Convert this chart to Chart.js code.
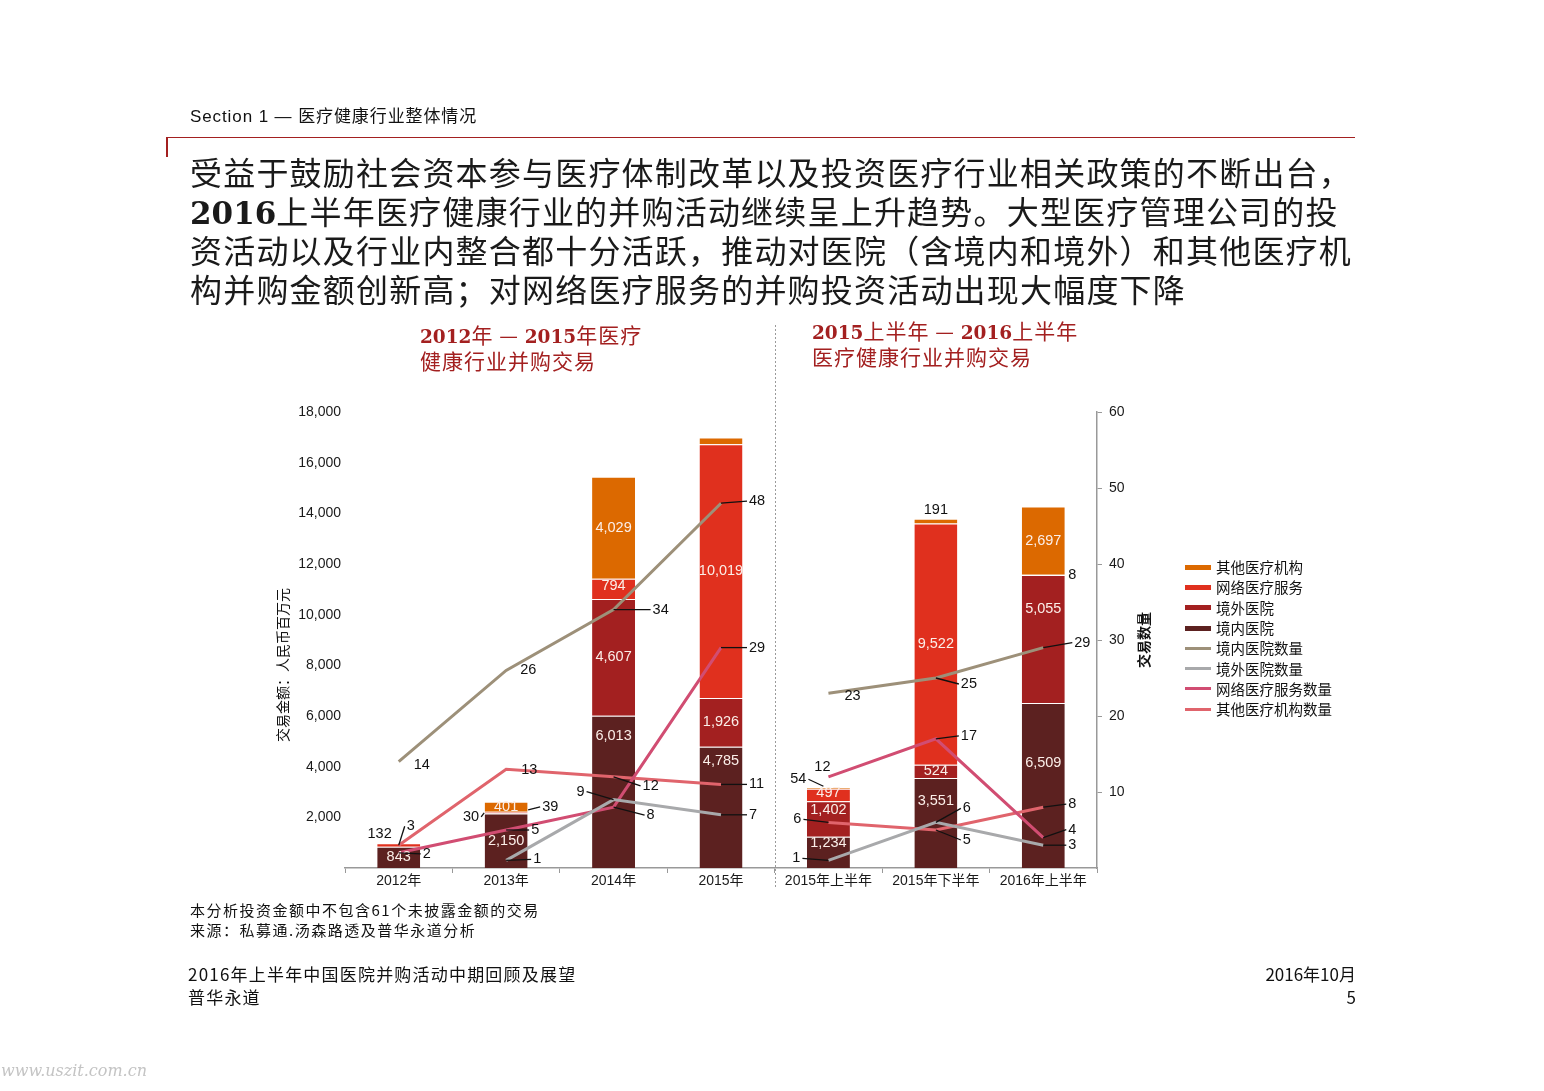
<!DOCTYPE html>
<html>
<head>
<meta charset="utf-8">
<script src="https://cdn.jsdelivr.net/npm/chart.js@4.4.0/dist/chart.umd.min.js"></script>
<style>
    body { margin: 0; background: #fff; width: 1544px; height: 1091px; position: relative; overflow: hidden;
           font-family: "Liberation Sans", "Noto Sans CJK SC", sans-serif; color: #111; }
    .abs { position: absolute; white-space: nowrap; }
    #chart { position: absolute; left: 0; top: 0; }
    .section { left: 190px; top: 106px; font-size: 17px; line-height: 21px; letter-spacing: 0.9px; }
    .rule { left: 167px; top: 137px; width: 1188px; height: 0; border-top: 1px solid #a32020; }
    .rule-tick { left: 166px; top: 137px; width: 2px; height: 20px; background: #a32020; }
    .title { left: 190px; top: 152px; font-family: "Noto Sans CJK SC", sans-serif; font-size: 32px; line-height: 39px;
             letter-spacing: 1.2px; color: #1a1a1a; }
    .title .num { font-family: "DejaVu Serif", serif; font-weight: bold; font-size: 31px; letter-spacing: 0; line-height: 0; }
    .sub { font-family: "Noto Sans CJK SC", sans-serif; font-size: 21px; line-height: 26px; color: #a32020; letter-spacing: 1px; }
    .sub .num { font-family: "DejaVu Serif", serif; font-weight: bold; font-size: 18.5px; letter-spacing: 0; line-height: 0; }
    .axis-title { font-family: "Noto Sans CJK SC", sans-serif; font-size: 14px; transform: translate(-50%, -50%) rotate(-90deg); }
    .legend { left: 1185px; top: 557px; font-family: "Noto Sans CJK SC", sans-serif; font-size: 14.5px; }
    .legend div { height: 20.3px; line-height: 20px; display: flex; align-items: center; }
    .legend span.sw { display: inline-block; width: 26px; margin-right: 5px; }
    .note { left: 190px; top: 900px; font-family: "Noto Sans CJK SC", sans-serif; font-size: 15px; line-height: 20px; letter-spacing: 1.5px; }
    .foot { font-family: "Noto Sans CJK SC", "Liberation Sans", sans-serif; font-size: 17px; line-height: 23px; letter-spacing: 1.2px; }
    .mark { left: 1px; top: 1061px; font-family: "DejaVu Serif", serif; font-style: italic; font-size: 16px; color: #c4c4c4; }
</style>
</head>
<body>
<canvas id="chart" width="1544" height="1091"></canvas>

<div class="abs section">Section 1 — 医疗健康行业整体情况</div>
<div class="abs rule"></div>
<div class="abs rule-tick"></div>
<div class="abs title">受益于鼓励社会资本参与医疗体制改革以及投资医疗行业相关政策的不断出台，<br><span class="num">2016</span>上半年医疗健康行业的并购活动继续呈上升趋势。大型医疗管理公司的投<br>资活动以及行业内整合都十分活跃，推动对医院（含境内和境外）和其他医疗机<br>构并购金额创新高；对网络医疗服务的并购投资活动出现大幅度下降</div>

<div class="abs sub" style="left:420px;top:321px"><span class="num">2012</span>年 — <span class="num">2015</span>年医疗<br>健康行业并购交易</div>
<div class="abs sub" style="left:812px;top:317px"><span class="num">2015</span>上半年 — <span class="num">2016</span>上半年<br>医疗健康行业并购交易</div>

<div class="abs axis-title" style="left:282px;top:665px">交易金额：人民币百万元</div>
<div class="abs axis-title" style="left:1143px;top:640px;font-weight:bold">交易数量</div>

<div class="abs legend" id="legend"></div>

<div class="abs note">本分析投资金额中不包含61个未披露金额的交易<br>来源：私募通.汤森路透及普华永道分析</div>
<div class="abs foot" style="left:188px;top:962px">2016年上半年中国医院并购活动中期回顾及展望<br>普华永道</div>
<div class="abs foot" style="right:188px;top:962px;text-align:right;letter-spacing:0">2016年10月<br>5</div>
<div class="abs mark">www.uszit.com.cn</div>

<script>
// categories (two periods, split between index 3 and 4)
var categories = ["2012年", "2013年", "2014年", "2015年", "2015年上半年", "2015年下半年", "2016年上半年"];

// deal amounts, RMB million (stacked bars)
var domesticAmt = [843, 2150, 6013, 4785, 1234, 3551, 6509];
var overseasAmt = [0, 30, 4607, 1926, 1402, 524, 5055];
var onlineAmt = [132, 39, 794, 10019, 497, 9522, 8];
var otherAmt = [0, 401, 4029, 260, 54, 191, 2697];

// deal counts (lines, right axis)
var domesticCnt = [14, 26, 34, 48, 23, 25, 29];
var overseasCnt = [null, 1, 9, 7, 1, 6, 3];
var onlineCnt = [2, 5, 8, 29, 12, 17, 4];
var otherCnt = [3, 13, 12, 11, 6, 5, 8];

var amtTicks = [2000, 4000, 6000, 8000, 10000, 12000, 14000, 16000, 18000];
var cntTicks = [10, 20, 30, 40, 50, 60];

// label placement: bars ['in', dy] or ['out', dx, dy, align, leaderStart]
var barLabelPos = [
    [["in", 0], ["in", 0], ["in", -56], ["in", -46], ["in", -9], ["in", -22], ["in", -23]],
    [null, ["out", -27, 4, "right", [-22, 0]], ["in", 0], ["in", 0], ["in", -9], ["in", 0], ["in", -30]],
    [["out", -7, -9, "right", null], ["out", 36, -5, "left", [22, -2]], ["in", -3], ["in", 0], ["in", -2], ["in", 0], ["out", 25, 0, "left", null]],
    [null, ["in", 0], ["in", 0], null, ["out", -22, -8, "right", [-5, -1]], ["out", 0, -9, "center", null], ["in", 0]]
];
// lines [dx, dy, align, leader]
var lineLabelPos = [
    [[15, 3, "left", 0], [14, 0, "left", 0], [39, 0, "left", 1], [28, -2, "left", 1], [16, 3, "left", 0], [25, 6, "left", 1], [31, -5, "left", 1]],
    [null, [27, -1, "left", 1], [-29, -8, "right", 1], [28, 0, "left", 1], [-28, -2, "right", 1], [27, -14, "left", 1], [25, 0, "left", 1]],
    [[24, 1, "left", 1], [25, 0, "left", 1], [33, 8, "left", 1], [28, 0, "left", 1], [-6, -10, "center", 0], [25, -3, "left", 1], [25, -8, "left", 1]],
    [[8, -19, "left", 1], [15, 1, "left", 0], [29, 9, "left", 1], [28, 0, "left", 1], [-27, -3, "right", 1], [27, 10, "left", 1], [25, -3, "left", 1]]
];

var barSeries = [
    { label: "境内医院", data: domesticAmt, color: "#5c2120" },
    { label: "境外医院", data: overseasAmt, color: "#a32020" },
    { label: "网络医疗服务", data: onlineAmt, color: "#e0301e" },
    { label: "其他医疗机构", data: otherAmt, color: "#dc6900" }
];
var lineSeries = [
    { label: "境内医院数量", data: domesticCnt, color: "#9d9079" },
    { label: "境外医院数量", data: overseasCnt, color: "#a8a9ab" },
    { label: "网络医疗服务数量", data: onlineCnt, color: "#d14d72" },
    { label: "其他医疗机构数量", data: otherCnt, color: "#e0646c" }
];

var datasets = [];
barSeries.forEach(function (s) {
    datasets.push({
        type: "bar",
        label: s.label,
        data: s.data,
        yAxisID: "y",
        backgroundColor: s.color,
        borderColor: "rgba(255,255,255,0.35)",
        borderWidth: { top: 1, left: 0, right: 0, bottom: 0 },
        borderSkipped: false,
        barPercentage: 0.4,
        categoryPercentage: 1,
        order: 2
    });
});
lineSeries.forEach(function (s) {
    datasets.push({
        type: "line",
        label: s.label,
        data: s.data,
        yAxisID: "y1",
        borderColor: s.color,
        borderWidth: 3,
        pointRadius: 0,
        tension: 0,
        fill: false,
        order: 1,
        segment: {
            // no line across the gap between the two periods
            borderColor: function (c) { return c.p0DataIndex === 3 ? "rgba(0,0,0,0)" : s.color; }
        }
    });
});

// legend (top to bottom as in the original)
var legendHtml = "";
[barSeries[3], barSeries[2], barSeries[1], barSeries[0]].forEach(function (s) {
    legendHtml += '<div><span class="sw" style="height:5px;background:' + s.color + '"></span>' + s.label + "</div>";
});
lineSeries.forEach(function (s) {
    legendHtml += '<div><span class="sw" style="height:3px;background:' + s.color + '"></span>' + s.label + "</div>";
});
document.getElementById("legend").innerHTML = legendHtml;

function drawLabel(ctx, text, x, y, align, leader, fromX, fromY) {
    ctx.textAlign = align;
    ctx.fillText(text, x, y);
    if (leader) {
        var ex = align === "right" ? x + 2 : x - 2;
        if (align === "center") ex = x;
        ctx.beginPath();
        ctx.moveTo(fromX, fromY);
        ctx.lineTo(ex, y);
        ctx.stroke();
    }
}

var labelPlugin = {
    id: "valueLabels",
    afterDatasetsDraw: function (chart) {
        var ctx = chart.ctx;
        ctx.save();
        ctx.font = "14.5px 'Liberation Sans', Arial, sans-serif";
        ctx.textBaseline = "middle";
        ctx.lineWidth = 1.3;
        ctx.strokeStyle = "#111";

        barSeries.forEach(function (s, di) {
            var meta = chart.getDatasetMeta(di);
            meta.data.forEach(function (bar, i) {
                var spec = barLabelPos[di][i];
                if (!spec) return;
                var text = s.data[i].toLocaleString("en-US");
                if (spec[0] === "in") {
                    ctx.fillStyle = "#fbeee8";
                    ctx.textAlign = "center";
                    ctx.fillText(text, bar.x, (bar.y + bar.base) / 2 + spec[1]);
                } else {
                    ctx.fillStyle = "#111";
                    var ls = spec[4];
                    drawLabel(ctx, text, bar.x + spec[1], bar.y + spec[2], spec[3], !!ls,
                        ls ? bar.x + ls[0] : 0, ls ? bar.y + ls[1] : 0);
                }
            });
        });

        ctx.fillStyle = "#111";
        lineSeries.forEach(function (s, li) {
            var meta = chart.getDatasetMeta(barSeries.length + li);
            meta.data.forEach(function (pt, i) {
                var spec = lineLabelPos[li][i];
                if (!spec || s.data[i] === null) return;
                drawLabel(ctx, String(s.data[i]), pt.x + spec[0], pt.y + spec[1], spec[2], spec[3], pt.x, pt.y);
            });
        });
        ctx.restore();
    },
    afterDraw: function (chart) {
        // dotted divider between the two periods
        var xs = chart.scales.x;
        var x = Math.round((xs.getPixelForValue(3) + xs.getPixelForValue(4)) / 2) + 0.5;
        var ctx = chart.ctx;
        ctx.save();
        ctx.strokeStyle = "#9a9a9a";
        ctx.lineWidth = 1;
        ctx.setLineDash([2, 2]);
        ctx.beginPath();
        ctx.moveTo(x, 325);
        ctx.lineTo(x, 887);
        ctx.stroke();
        ctx.restore();
    }
};

var tickFont = { family: "'Liberation Sans', 'Noto Sans CJK SC', sans-serif", size: 14 };

new Chart(document.getElementById("chart").getContext("2d"), {
    data: { labels: categories, datasets: datasets },
    plugins: [labelPlugin],
    options: {
        responsive: false,
        animation: false,
        layout: { padding: { left: 270, right: 397, top: 412, bottom: 193 } },
        plugins: { legend: { display: false }, tooltip: { enabled: false } },
        scales: {
            x: {
                stacked: true,
                offset: true,
                grid: { display: true, drawOnChartArea: false, offset: true, tickLength: 5, color: "#999" },
                border: { display: true, color: "#999", width: 1.5 },
                ticks: { font: tickFont, color: "#1a1a1a", padding: 0, maxRotation: 0 },
                afterFit: function (scale) { scale.height = 30; }
            },
            y: {
                stacked: true,
                position: "left",
                min: 0,
                max: 18000,
                grid: { display: false, drawTicks: false },
                border: { display: false },
                afterBuildTicks: function (scale) {
                    scale.ticks = [{ value: 0 }].concat(amtTicks.map(function (v) { return { value: v }; }));
                },
                ticks: {
                    font: tickFont,
                    color: "#1a1a1a",
                    padding: 4,
                    callback: function (v) { return v === 0 ? null : v.toLocaleString("en-US"); }
                },
                afterFit: function (scale) { scale.width = 75; }
            },
            y1: {
                position: "right",
                min: 0,
                max: 60,
                grid: { display: true, drawOnChartArea: false, tickLength: 5, color: "#999" },
                border: { display: true, color: "#999", width: 1.5 },
                afterBuildTicks: function (scale) {
                    scale.ticks = [{ value: 0 }].concat(cntTicks.map(function (v) { return { value: v }; }));
                },
                ticks: {
                    font: tickFont,
                    color: "#1a1a1a",
                    padding: 7,
                    callback: function (v) { return v === 0 ? null : v; }
                },
                afterFit: function (scale) { scale.width = 50; }
            }
        }
    }
});
</script>
</body>
</html>
